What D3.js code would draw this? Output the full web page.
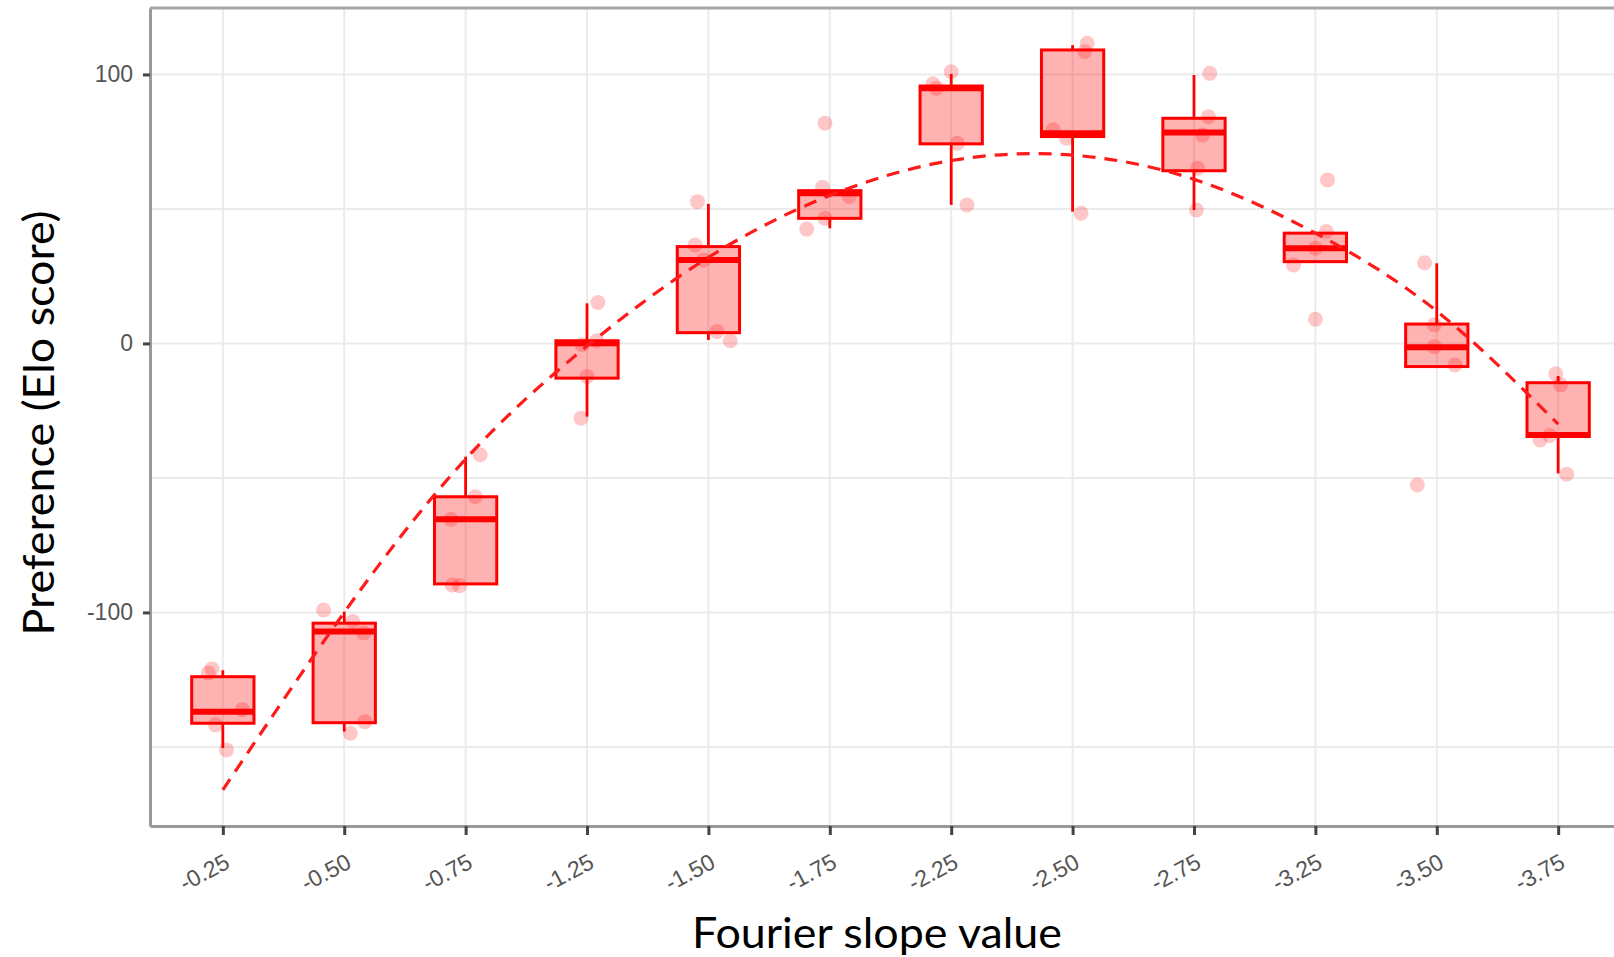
<!DOCTYPE html>
<html lang="en">
<head>
    <meta charset="UTF-8">
    <title>Preference vs Fourier slope</title>
    <script src="https://d3js.org/d3.v7.min.js"></script>
    <style>
        body { margin: 0; background: #fff; }
        svg { display: block; }
        .grid line { stroke: #ebebeb; stroke-width: 2px; }
        .axis .domain { stroke: #999; stroke-width: 3px; }
        .axis .tick line { stroke: #444; stroke-width: 3px; }
        .axis text { font-family: "Liberation Sans", Arial, sans-serif; font-size: 23px; fill: #555; }
        .title { font-family: Lato, "Open Sans", sans-serif; font-size: 42px; fill: #000; }
        .box { fill: rgba(255, 0, 0, 0.3); stroke: #ff0000; stroke-width: 3px; }
        .median { stroke: #ff0000; stroke-width: 6px; }
        .whisker { stroke: #ff0000; stroke-width: 2.8px; }
        .dot { fill: rgba(255, 0, 0, 0.22); }
        .fit { fill: none; stroke: #ff1a1a; stroke-width: 3.2px; stroke-dasharray: 13 9; }
    </style>
</head>
<body>
<svg id="chart" width="1614" height="957"></svg>
<script>
    // categories (Fourier slope)
    const categories = ["-0.25", "-0.50", "-0.75", "-1.25", "-1.50", "-1.75", "-2.25", "-2.50", "-2.75", "-3.25", "-3.50", "-3.75"];

    // box statistics
    const whiskerLow  = [-150.4, -144.3, -89.4, -27.2, 1.3, 42.8, 51.5, 49.0, 49.6, 30.4, -8.6, -48.3];
    const q1          = [-141.2, -141.0, -89.4, -12.9, 4.0, 46.5, 74.2, 76.9, 64.2, 30.4, -8.6, -34.6];
    const median      = [-136.9, -107.1, -65.4, 0.1, 31.0, 55.8, 94.9, 78.1, 78.4, 35.4, -1.4, -34.0];
    const q3          = [-123.9, -104.0, -57.0, 1.0, 36.0, 56.8, 95.7, 109.1, 83.7, 41.0, 7.2, -14.6];
    const whiskerHigh = [-121.5, -99.7, -42.1, 14.9, 51.9, 56.8, 100.2, 110.9, 99.8, 41.0, 29.8, -12.1];

    // individual scores per category, and horizontal jitter (fraction of category step)
    const pointValues = [
        [-122.5, -121, -136.2, -141.8, -151.1],
        [-99.1, -103.4, -107.6, -140.6, -144.9],
        [-41.4, -57.0, -65.4, -89.8, -90.1],
        [15.2, 1.0, -0.5, -12.3, -27.8],
        [52.7, 36.6, 31, 4.4, 1.0],
        [81.9, 58.1, 54.6, 46.5, 42.5],
        [101.0, 96.5, 94.9, 74.4, 51.5],
        [111.6, 108.5, 79.4, 76.3, 48.4],
        [100.4, 84.3, 77.5, 65.1, 49.6],
        [60.8, 41.6, 35.4, 29.2, 9.0],
        [30.0, 6.9, -1.2, -8.0, -52.6],
        [-11.3, -15.4, -34.2, -35.9, -48.6]
    ];
    const pointJitter = [
        [-0.12, -0.09, 0.16, -0.06, 0.03],
        [-0.17, 0.07, 0.16, 0.17, 0.05],
        [0.12, 0.08, -0.12, -0.11, -0.05],
        [0.09, 0.08, -0.04, 0, -0.05],
        [-0.09, -0.11, -0.04, 0.07, 0.18],
        [-0.04, -0.06, 0.16, -0.04, -0.19],
        [0, -0.15, -0.12, 0.05, 0.13],
        [0.12, 0.1, -0.16, -0.05, 0.07],
        [0.13, 0.12, 0.07, 0.03, 0.02],
        [0.1, 0.09, 0, -0.18, 0],
        [-0.1, -0.02, -0.02, 0.15, -0.16],
        [-0.02, 0.02, -0.07, -0.15, 0.07]
    ];

    // quadratic fit (dashed) read at each category
    const fitValues = [-166, -100, -43, -1, 32, 55, 68, 70, 61, 41, 12, -30];

    const yTicks = [-100, 0, 100];
    const yGrid = [-150, -100, -50, 0, 50, 100];

    const panel = {left: 150, top: 8, bottom: 826, right: 1631};

    const svg = d3.select("#chart");

    const x = d3.scalePoint()
        .domain(categories)
        .range([panel.left, panel.right])
        .padding(0.6);
    const y = d3.scaleLinear()
        .domain([-179.4, 124.7])
        .range([panel.bottom, panel.top]);

    const step = x.step();
    const boxW = step * 0.513;

    // grid
    const grid = svg.append("g").attr("class", "grid");
    grid.selectAll(".hg").data(yGrid).join("line")
        .attr("x1", panel.left).attr("x2", panel.right)
        .attr("y1", d => y(d)).attr("y2", d => y(d));
    grid.selectAll(".vg").data(categories).join("line")
        .attr("x1", d => x(d)).attr("x2", d => x(d))
        .attr("y1", panel.top).attr("y2", panel.bottom);

    // top border
    svg.append("line")
        .attr("x1", panel.left).attr("x2", panel.right)
        .attr("y1", panel.top).attr("y2", panel.top)
        .attr("stroke", "#a6a6a6").attr("stroke-width", 3);

    // axes
    svg.append("g")
        .attr("class", "axis")
        .attr("transform", `translate(${panel.left},0)`)
        .call(d3.axisLeft(y).tickValues(yTicks).tickFormat(d => String(d))
            .tickSize(7).tickSizeOuter(0).tickPadding(10));

    const xAxis = svg.append("g")
        .attr("class", "axis")
        .attr("transform", `translate(0,${panel.bottom})`)
        .call(d3.axisBottom(x).tickSize(9).tickSizeOuter(0));
    xAxis.selectAll("text")
        .attr("x", 0).attr("y", 0).attr("dy", null)
        .attr("text-anchor", "end")
        .attr("transform", "translate(8,41) rotate(-28)");

    // boxes
    const rows = categories.map((c, i) => ({
        c, lo: whiskerLow[i], q1: q1[i], med: median[i], q3: q3[i], hi: whiskerHigh[i]
    }));
    const boxes = svg.append("g");
    boxes.selectAll(".wl").data(rows).join("line")
        .attr("class", "whisker")
        .attr("x1", d => x(d.c)).attr("x2", d => x(d.c))
        .attr("y1", d => y(d.q1)).attr("y2", d => y(d.lo));
    boxes.selectAll(".wh").data(rows).join("line")
        .attr("class", "whisker")
        .attr("x1", d => x(d.c)).attr("x2", d => x(d.c))
        .attr("y1", d => y(d.q3)).attr("y2", d => y(d.hi));
    boxes.selectAll("rect").data(rows).join("rect")
        .attr("class", "box")
        .attr("x", d => x(d.c) - boxW / 2)
        .attr("width", boxW)
        .attr("y", d => y(d.q3))
        .attr("height", d => y(d.q1) - y(d.q3));
    boxes.selectAll(".med").data(rows).join("line")
        .attr("class", "median")
        .attr("x1", d => x(d.c) - boxW / 2).attr("x2", d => x(d.c) + boxW / 2)
        .attr("y1", d => y(d.med)).attr("y2", d => y(d.med));

    // jittered points
    const pts = [];
    pointValues.forEach((vals, i) => {
        vals.forEach((v, j) => pts.push({c: categories[i], v, j: pointJitter[i][j]}));
    });
    svg.append("g").selectAll("circle").data(pts).join("circle")
        .attr("class", "dot")
        .attr("cx", d => x(d.c) + d.j * step)
        .attr("cy", d => y(d.v))
        .attr("r", 7.5);

    // fit line
    const fit = d3.line()
        .x((d, i) => x(categories[i]))
        .y(d => y(d))
        .curve(d3.curveNatural);
    svg.append("path")
        .datum(fitValues)
        .attr("class", "fit")
        .attr("d", fit);

    // titles
    svg.append("text")
        .attr("class", "title")
        .attr("x", 877).attr("y", 948)
        .attr("text-anchor", "middle")
        .attr("textLength", 370).attr("lengthAdjust", "spacingAndGlyphs")
        .text("Fourier slope value");
    svg.append("text")
        .attr("class", "title")
        .attr("transform", "translate(54,423) rotate(-90)")
        .attr("text-anchor", "middle")
        .attr("textLength", 425).attr("lengthAdjust", "spacingAndGlyphs")
        .text("Preference (Elo score)");
</script>
</body>
</html>
